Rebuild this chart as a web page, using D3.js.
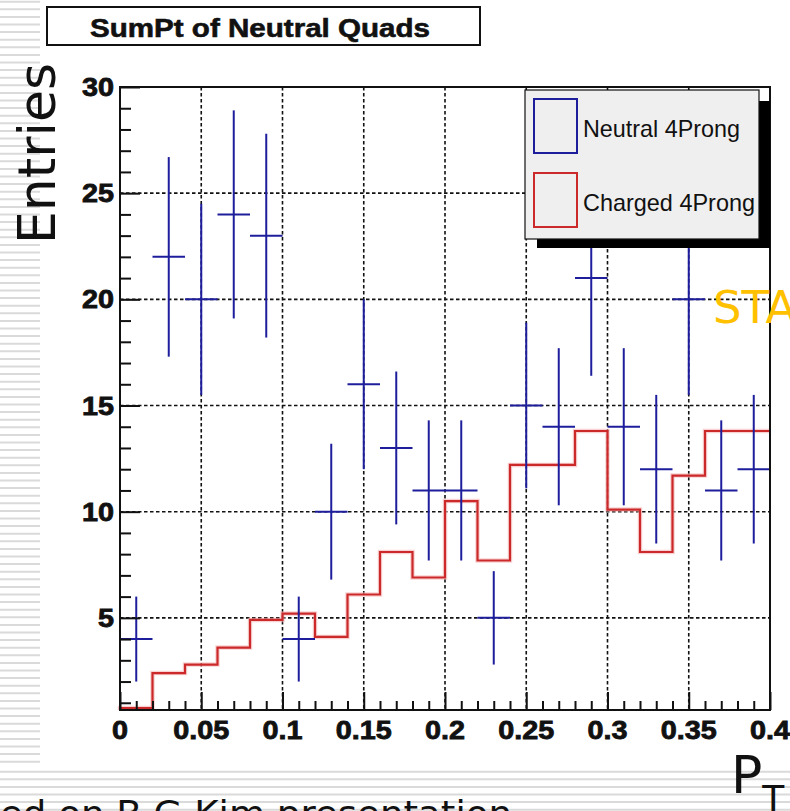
<!DOCTYPE html>
<html>
<head>
<meta charset="utf-8">
<script src="https://cdn.jsdelivr.net/npm/d3@7"></script>
<style>
  html, body { margin: 0; padding: 0; background: #fff; }
  svg { display: block; }
</style>
</head>
<body>
<svg id="chart" width="790" height="811"></svg>
<script>
// ---------------- DATA ----------------
const title = "SumPt of Neutral Quads";
const binEdges = [0, 0.02, 0.04, 0.06, 0.08, 0.10, 0.12, 0.14, 0.16, 0.18, 0.20,
                  0.22, 0.24, 0.26, 0.28, 0.30, 0.32, 0.34, 0.36, 0.38, 0.40];
const neutralValues = [4, 22, 20, 24, 23, 4, 10, 16, 13, 11, 11, 5, 15, 14, 21, 14, 12, 20, 11, 12];
const neutralErrors = [2.0, 4.7, 4.5, 4.9, 4.8, 2.0, 3.2, 4.0, 3.6, 3.3, 3.3, 2.2, 3.9, 3.7, 4.6, 3.7, 3.5, 4.5, 3.3, 3.5];
const chargedValues = [0.75, 2.4, 2.8, 3.6, 4.9, 5.2, 4.1, 6.1, 8.1, 6.9, 10.5, 7.7, 12.2, 12.2, 13.8, 10.1, 8.1, 11.7, 13.8, 13.8];
const xMajorTicks = [0, 0.05, 0.1, 0.15, 0.2, 0.25, 0.3, 0.35, 0.4];
const xTickLabels = ["0", "0.05", "0.1", "0.15", "0.2", "0.25", "0.3", "0.35", "0.4"];
const yMajorTicks = [5, 10, 15, 20, 25, 30];
const yTickLabels = ["5", "10", "15", "20", "25", "30"];
const xDomain = [0, 0.4];
const yDomain = [0.66, 30];
const legendLabels = ["Neutral 4Prong", "Charged 4Prong"];
const yAxisTitle = "Entries";
const footerText = "ed on B.G.Kim presentation";
const overlayText = "STA";

// ---------------- LAYOUT ----------------
const svg = d3.select("#chart");
const W = 790, H = 811;
const L = 120, R = 770, T = 87, B = 710;
const blue = "#1e1e9c", red = "#cc2a2a";

const x = d3.scaleLinear().domain(xDomain).range([L, R]);
const y = d3.scaleLinear().domain(yDomain).range([B, T]);

// background slide stripes
const stripes = svg.append("g").attr("stroke", "#dadada").attr("stroke-width", 2);
d3.range(1.7, 768, 7.6).forEach(v => {
  stripes.append("line").attr("x1", 0).attr("x2", 40).attr("y1", v).attr("y2", v);
});
d3.range(771.7, 811, 7.6).forEach(v => {
  stripes.append("line").attr("x1", 0).attr("x2", W).attr("y1", v).attr("y2", v);
});

// title box
svg.append("rect").attr("x", 47).attr("y", 7).attr("width", 433).attr("height", 38)
  .attr("fill", "#fff").attr("stroke", "#111").attr("stroke-width", 2);
svg.append("text").attr("x", 90).attr("y", 37)
  .attr("font-family", "Liberation Sans, Arial, sans-serif").attr("font-weight", "bold")
  .attr("font-size", 26).attr("textLength", 340).attr("lengthAdjust", "spacingAndGlyphs")
  .attr("fill", "#111").attr("stroke", "#111").attr("stroke-width", 0.6).text(title);

// plot background
svg.append("rect").attr("x", L).attr("y", T).attr("width", R - L).attr("height", B - T).attr("fill", "#fff");

// grid
const grid = svg.append("g").attr("stroke", "#111").attr("stroke-width", 1.6).attr("stroke-dasharray", "3.5,2.5");
xMajorTicks.filter(v => v > xDomain[0] && v < xDomain[1]).forEach(v => {
  grid.append("line").attr("x1", x(v)).attr("x2", x(v)).attr("y1", T).attr("y2", B);
});
yMajorTicks.forEach(v => {
  grid.append("line").attr("x1", L).attr("x2", R).attr("y1", y(v)).attr("y2", y(v));
});

// charged histogram (step outline)
const pts = [[x(binEdges[0]), y(yDomain[0])]];
chargedValues.forEach((v, i) => {
  pts.push([x(binEdges[i]), y(v)]);
  pts.push([x(binEdges[i + 1]), y(v)]);
});
const stepPath = d3.line()(pts);
svg.append("path").attr("d", stepPath).attr("fill", "none")
  .attr("stroke", "#f4b4b4").attr("stroke-width", 4.5).attr("stroke-opacity", 0.6);
svg.append("path").attr("d", stepPath).attr("fill", "none")
  .attr("stroke", red).attr("stroke-width", 2.2).attr("stroke-linejoin", "miter");

// neutral error bars
const eb = svg.append("g").attr("stroke", blue).attr("stroke-width", 2);
neutralValues.forEach((v, i) => {
  const cx = x((binEdges[i] + binEdges[i + 1]) / 2);
  eb.append("line").attr("x1", cx).attr("x2", cx)
    .attr("y1", y(v - neutralErrors[i])).attr("y2", y(v + neutralErrors[i]));
  eb.append("line").attr("x1", x(binEdges[i])).attr("x2", x(binEdges[i + 1]))
    .attr("y1", y(v)).attr("y2", y(v));
});

// frame
svg.append("rect").attr("x", L).attr("y", T).attr("width", R - L).attr("height", B - T)
  .attr("fill", "none").attr("stroke", "#111").attr("stroke-width", 2);

// ticks (inside)
const xMinor = d3.range(0, 0.4001, 0.01).map(v => +v.toFixed(2)).filter(v => !xMajorTicks.some(m => Math.abs(m - v) < 1e-9));
svg.append("g").attr("transform", `translate(0,${B})`)
  .call(d3.axisBottom(x).tickValues(xMajorTicks).tickSize(-18).tickFormat(""))
  .call(g => g.select(".domain").remove())
  .call(g => g.selectAll("line").attr("stroke", "#111").attr("stroke-width", 2));
svg.append("g").attr("transform", `translate(0,${B})`)
  .call(d3.axisBottom(x).tickValues(xMinor).tickSize(-9).tickFormat(""))
  .call(g => g.select(".domain").remove())
  .call(g => g.selectAll("line").attr("stroke", "#111").attr("stroke-width", 2));
const yMinor = d3.range(1, 30, 1).filter(v => v % 5 !== 0);
svg.append("g").attr("transform", `translate(${L},0)`)
  .call(d3.axisLeft(y).tickValues(yMajorTicks).tickSize(-20).tickFormat(""))
  .call(g => g.select(".domain").remove())
  .call(g => g.selectAll("line").attr("stroke", "#111").attr("stroke-width", 2));
svg.append("g").attr("transform", `translate(${L},0)`)
  .call(d3.axisLeft(y).tickValues(yMinor).tickSize(-11).tickFormat(""))
  .call(g => g.select(".domain").remove())
  .call(g => g.selectAll("line").attr("stroke", "#111").attr("stroke-width", 2));

// tick labels
const labW = s => s.replace(/\./g, "").length * 16 + (s.includes(".") ? 8 : 0);
const lab = svg.append("g").attr("font-family", "Liberation Sans, Arial, sans-serif")
  .attr("font-weight", "bold").attr("font-size", 25).attr("fill", "#111")
  .attr("stroke", "#111").attr("stroke-width", 0.8);
xMajorTicks.forEach((v, i) => {
  lab.append("text").attr("x", x(v) - labW(xTickLabels[i]) / 2).attr("y", 739)
    .attr("textLength", labW(xTickLabels[i])).attr("lengthAdjust", "spacingAndGlyphs")
    .text(xTickLabels[i]);
});
yMajorTicks.forEach((v, i) => {
  lab.append("text").attr("x", 114 - labW(yTickLabels[i])).attr("y", y(v) + 9)
    .attr("textLength", labW(yTickLabels[i])).attr("lengthAdjust", "spacingAndGlyphs")
    .text(yTickLabels[i]);
});

// legend
svg.append("rect").attr("x", 537).attr("y", 101).attr("width", 233).attr("height", 147).attr("fill", "#000");
svg.append("rect").attr("x", 525).attr("y", 90).attr("width", 234).attr("height", 149)
  .attr("fill", "#efefef").attr("stroke", "#111").attr("stroke-width", 1.2);
const legColors = [blue, red];
legendLabels.forEach((t, i) => {
  const top = 99 + i * 74;
  svg.append("rect").attr("x", 534).attr("y", top).attr("width", 43).attr("height", 54)
    .attr("fill", "#efefef").attr("stroke", legColors[i]).attr("stroke-width", 2);
  svg.append("text").attr("x", 583).attr("y", top + 38)
    .attr("font-family", "Liberation Sans, Arial, sans-serif").attr("font-size", 24)
    .attr("textLength", i === 0 ? 157 : 172).attr("lengthAdjust", "spacingAndGlyphs")
    .attr("fill", "#111").text(t);
});

// y axis title
svg.append("text").attr("transform", "translate(55,153.5) rotate(-90)")
  .attr("text-anchor", "middle").attr("font-family", "DejaVu Sans, Verdana, sans-serif")
  .attr("font-size", 52).attr("fill", "#111").text(yAxisTitle);

// overlay text
svg.append("text").attr("x", 713).attr("y", 323)
  .attr("font-family", "DejaVu Sans, Verdana, sans-serif").attr("font-size", 45)
  .attr("fill", "#ffc000").text(overlayText);

// x axis title P_T
const pt = svg.append("text").attr("x", 731).attr("y", 793)
  .attr("font-family", "DejaVu Sans, Verdana, sans-serif").attr("font-size", 52).attr("fill", "#111");
pt.append("tspan").text("P");
pt.append("tspan").attr("dy", 18).attr("font-size", 36).text("T");

// footer
svg.append("text").attr("x", 0).attr("y", 826)
  .attr("font-family", "DejaVu Sans, Verdana, sans-serif").attr("font-size", 36)
  .attr("textLength", 512).attr("lengthAdjust", "spacingAndGlyphs")
  .attr("fill", "#111").text(footerText);
</script>
</body>
</html>
